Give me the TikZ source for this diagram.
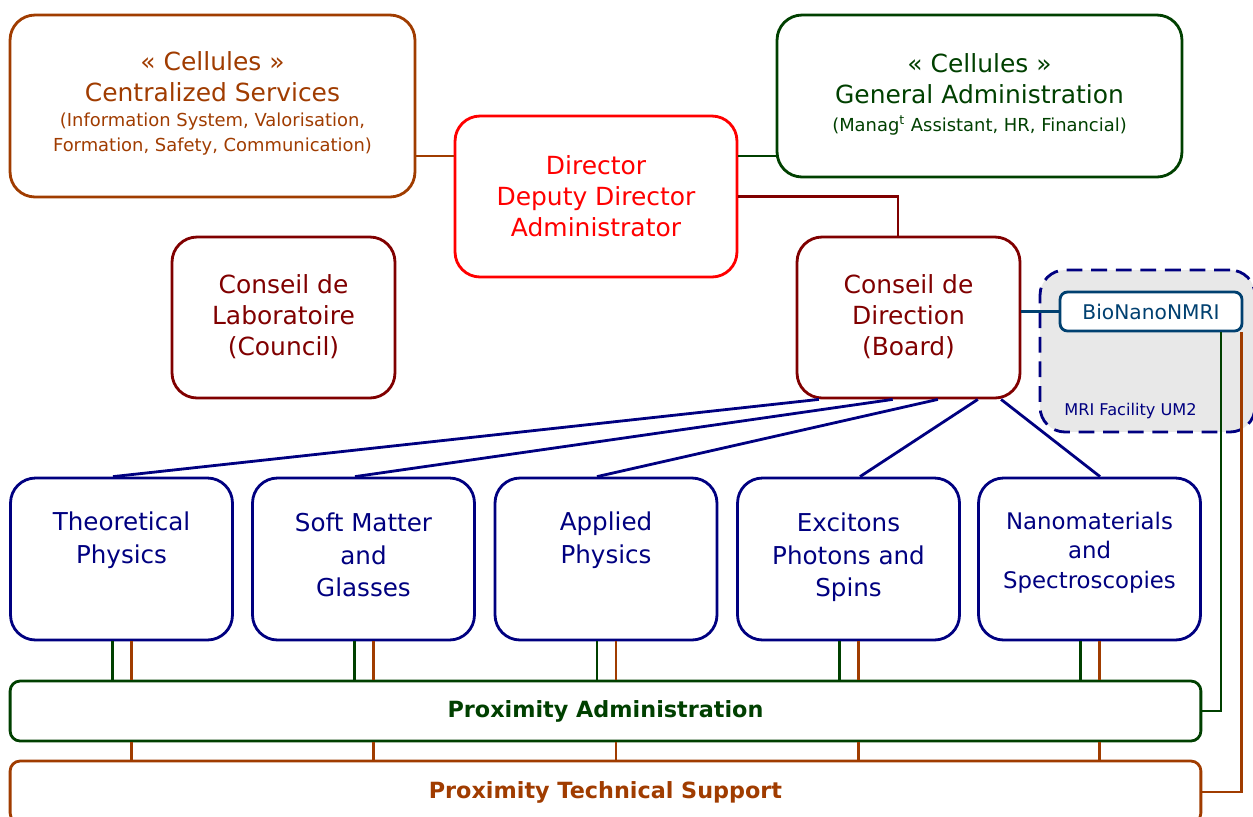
\documentclass[tikz,border=0pt]{standalone}
\usepackage{fontspec}
\setmainfont{DejaVu Sans}
\usepackage{tikz}
\usetikzlibrary{positioning, calc}
\definecolor{cellbrown}{RGB}{160, 60, 0}
\definecolor{cellgreen}{RGB}{0, 64, 0}
\definecolor{dirred}{RGB}{255, 0, 0}
\definecolor{boardred}{RGB}{128, 0, 0}
\definecolor{teamblue}{RGB}{0, 0, 128}
\definecolor{nmriblue}{RGB}{0, 64, 112}
\definecolor{mrigray}{RGB}{232, 232, 232}
\tikzset{
    box/.style={draw, line width=1.6pt, fill=white, rounded corners=0.5cm, align=center},
    cellbrownbox/.style={box, draw=cellbrown, text=cellbrown, minimum width=8.1cm, minimum height=3.64cm},
    cellgreenbox/.style={box, draw=cellgreen, text=cellgreen, minimum width=8.1cm, minimum height=3.24cm},
    directorbox/.style={box, draw=dirred, text=dirred, minimum width=5.64cm, minimum height=3.22cm},
    councilbox/.style={box, draw=boardred, text=boardred, minimum width=4.46cm, minimum height=3.22cm},
    teambox/.style={box, draw=teamblue, text=teamblue, minimum width=4.44cm, minimum height=3.24cm, font=\fontsize{14}{18.5}\selectfont},
    proxbox/.style={box, rounded corners=0.2cm, minimum width=23.82cm, font=\bfseries\fontsize{12.7}{14}\selectfont},
    bigtext/.style={font=\fontsize{14.2}{17.6}\selectfont},
    brownline/.style={draw=cellbrown, line width=1.6pt},
    greenline/.style={draw=cellgreen, line width=1.6pt},
    redline/.style={draw=boardred, line width=1.6pt},
    blueline/.style={draw=teamblue, line width=1.6pt},
    nmriline/.style={draw=nmriblue, line width=1.6pt}
}
\newcommand{\smalltext}[1]{{\fontsize{10.2}{14}\selectfont #1}}

\begin{document}
\begin{tikzpicture}[x=0.02cm, y=-0.02cm]
    \useasboundingbox (0,0) rectangle (1253,816);

    % Top cells and direction
    \node[cellbrownbox, bigtext] (cs) at (212.5,106) {« Cellules »\\Centralized Services\\[-3pt]\smalltext{(Information System, Valorisation,}\\[-3.5pt]\smalltext{Formation, Safety, Communication)}\\[-12.5pt]};
    \node[cellgreenbox, bigtext] (ga) at (979.5,96) {« Cellules »\\General Administration\\[-2pt]\smalltext{(Manag\textsuperscript{t} Assistant, HR, Financial)}\\[-13.5pt]};
    \node[directorbox, bigtext] (dir) at (596,196.5) {Director\\Deputy Director\\Administrator};

    % Councils
    \node[councilbox, bigtext] (cl) at (283.5,317.5) {Conseil de\\Laboratoire\\(Council)\\[-14.5pt]};
    \node[councilbox, bigtext] (cd) at (908.5,317.5) {Conseil de\\Direction\\(Board)\\[-14.5pt]};

    % MRI facility
    \node[draw=teamblue, fill=mrigray, dashed, dash pattern=on 9pt off 5pt, line width=1.6pt, rounded corners=0.5cm, minimum width=4.3cm, minimum height=3.24cm] (mri) at (1147.5,351) {};
    \node[text=teamblue, font=\fontsize{9.2}{11}\selectfont, anchor=west, inner sep=0pt] (mrilabel) at (1064,411) {MRI Facility UM2};
    \node[draw=nmriblue, text=nmriblue, fill=white, line width=1.6pt, rounded corners=0.15cm, minimum width=3.64cm, minimum height=0.78cm, font=\fontsize{11.5}{13}\selectfont] (bio) at (1151,311.5) {BioNanoNMRI};

    % Teams
    \node[teambox] (t1) at (121.5,559) {Theoretical\\Physics\\[6pt]};
    \node[teambox] (t2) at (363.5,559) {Soft Matter\\and\\Glasses\\[-14pt]};
    \node[teambox] (t3) at (606,559) {Applied\\Physics\\[6pt]};
    \node[teambox] (t4) at (848.5,559) {Excitons\\Photons and\\Spins\\[-14pt]};
    \node[teambox, font=\fontsize{13}{17}\selectfont] (t5) at (1089.5,559) {Nanomaterials\\and\\Spectroscopies\\[-7pt]};

    % Proximity services
    \node[proxbox, draw=cellgreen, text=cellgreen, minimum height=1.2cm] (pa) at (605.5,711) {Proximity Administration};
    \node[proxbox, draw=cellbrown, text=cellbrown, minimum height=1.24cm] (pt) at (605.5,792) {Proximity Technical Support};

    % Connectors
    \draw[brownline] (cs.east |- 0,156) -- (dir.west |- 0,156);
    \draw[greenline] (dir.east |- 0,156) -- (ga.west |- 0,156);
    \draw[redline] (dir.east) -| ([xshift=-0.21cm]cd.north);
    \draw[nmriline] (cd.east |- bio) -- (bio.west);

    \draw[blueline] ($(cd.south west)!0.103!(cd.south east)$) -- ([xshift=-0.17cm]t1.north);
    \draw[blueline] ($(cd.south west)!0.43!(cd.south east)$) -- ([xshift=-0.17cm]t2.north);
    \draw[blueline] ($(cd.south west)!0.63!(cd.south east)$) -- ([xshift=-0.18cm]t3.north);
    \draw[blueline] ($(cd.south west)!0.807!(cd.south east)$) -- ([xshift=0.23cm]t4.north);
    \draw[blueline] ($(cd.south west)!0.91!(cd.south east)$) -- ([xshift=0.21cm]t5.north);

    \foreach \t in {t1,t2,t3,t4,t5} {
        \draw[greenline] ([xshift=-0.18cm]\t.south) -- ([xshift=-0.18cm]\t.south |- pa.north);
        \draw[brownline] ([xshift=0.2cm]\t.south) -- ([xshift=0.2cm]\t.south |- pa.north);
        \draw[brownline] ([xshift=0.2cm]pa.south -| \t.south) -- ([xshift=0.2cm]\t.south |- pt.north);
    }

    \draw[greenline] ([xshift=1.4cm]bio.south) |- (pa.east);
    \draw[brownline] ([xshift=-0.04cm]bio.south east) |- (pt.east);
\end{tikzpicture}
\end{document}
